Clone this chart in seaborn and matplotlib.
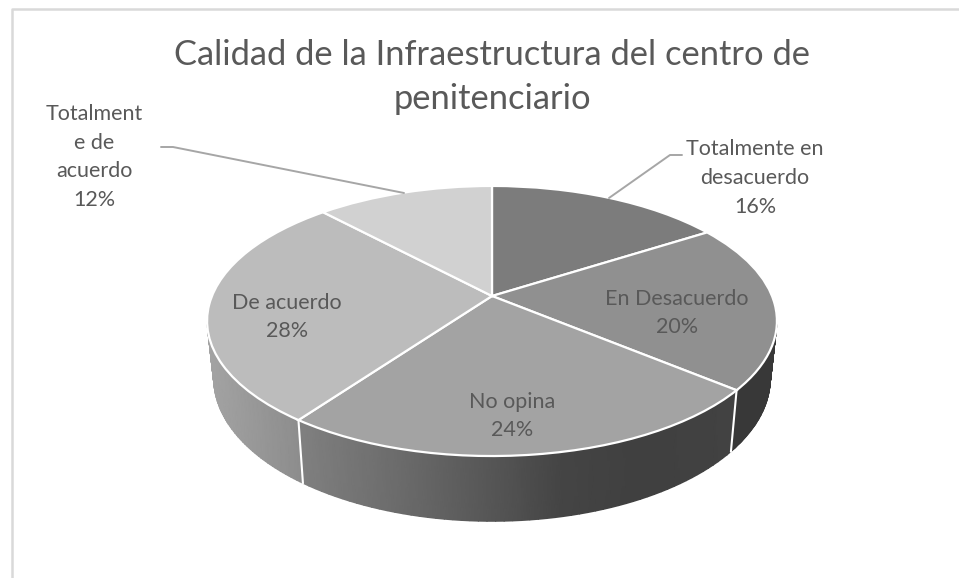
import numpy as np
import seaborn as sns
import matplotlib
matplotlib.use("Agg")
import matplotlib.pyplot as plt
from matplotlib.transforms import Transform

title = "Calidad de la Infraestructura del centro de\npenitenciario"
categories = ["Totalmente en\ndesacuerdo", "En Desacuerdo", "No opina", "De acuerdo", "Totalment\ne de\nacuerdo"]
values = [16, 20, 24, 28, 12]
slice_colors = ["#7c7c7c", "#909090", "#a3a3a3", "#bcbcbc", "#d1d1d1"]
label_pos = [(755, 178), (677, 313), (512, 416), (287, 317), (94, 157)]

sns.set_theme(style="white")
plt.rcParams["font.family"] = ["Lato", "DejaVu Sans"]


# tilted disc seen in perspective, unit circle -> figure pixels
class DiscProjection(Transform):
    input_dims = 2
    output_dims = 2
    has_inverse = False

    def __init__(self, cx, cy, a, b, k):
        super().__init__()
        self.cx, self.cy, self.a, self.b, self.k = cx, cy, a, b, k

    def transform_non_affine(self, values):
        u, v = values[:, 0], values[:, 1]
        d = 1 + self.k * v
        return np.column_stack([self.cx + self.a * u / d, self.cy - self.b * v / d])


top_plane = DiscProjection(492, 296, 280, 130.4, 0.185)
bottom_plane = DiscProjection(492, 352, 273.5, 138, 0.185)

fig = plt.figure(figsize=(9.59, 5.78), dpi=100)
ax = fig.add_axes([0, 0, 1, 1])

wedges, _ = ax.pie(
    values,
    startangle=90,
    counterclock=False,
    colors=sns.color_palette(slice_colors),
    wedgeprops={"edgecolor": "white", "linewidth": 1.6},
)
for w in wedges:
    w.set_transform(top_plane + ax.transData)
    w.set_zorder(3)

ax.set_aspect("auto")
ax.set_xlim(0, 959)
ax.set_ylim(578, 0)
ax.axis("off")


def rim(plane, deg):
    t = np.radians(deg)
    return plane.transform_non_affine(np.column_stack([np.cos(t), np.sin(t)]))


# side wall, only the front of the disc shows. shading per slice, by x
wall_stops = {
    1: ([737, 780], [0.22, 0.22]),
    2: ([303, 400, 500, 560, 640, 737], [0.50, 0.42, 0.33, 0.27, 0.25, 0.26]),
    3: ([200, 303], [0.65, 0.55]),
}
wall_lo, wall_hi = -169, -11
for i, (xs, gs) in wall_stops.items():
    w = wedges[i]
    deg = np.linspace(max(w.theta1, wall_lo), min(w.theta2, wall_hi), 60)
    upper, lower = rim(top_plane, deg), rim(bottom_plane, deg)
    X = np.vstack([upper[:, 0], lower[:, 0]])
    Y = np.vstack([upper[:, 1], lower[:, 1]])
    ax.pcolormesh(X, Y, np.interp(X, xs, gs), shading="gouraud", cmap="gray", vmin=0, vmax=1, zorder=1)

# white dividers on the wall
for w in wedges:
    if wall_lo < w.theta2 < wall_hi:
        a = rim(top_plane, [w.theta2])[0]
        b = rim(bottom_plane, [w.theta2])[0]
        ax.plot([a[0], b[0]], [a[1], b[1]], color="white", lw=1.5, zorder=2)

# chart frame, cut by the edge of the picture
ax.plot([12, 12, 959], [578, 9, 9], color="#d9d9d9", lw=1.8, zorder=0)

fig.text(492 / 959, 1 - 77 / 578, title, ha="center", va="center", fontsize=24.8, color="#595959", linespacing=1.45)

for name, val, (x, y) in zip(categories, values, label_pos):
    ax.text(x, y, f"{name}\n{val}%", ha="center", va="center", fontsize=15.5, color="#595959", linespacing=1.55, zorder=5)

# leader lines
ax.plot([161, 173, 404], [147, 147, 193], color="#a6a6a6", lw=1.4, zorder=4)
ax.plot([682, 670, 609], [155, 155, 198], color="#a6a6a6", lw=1.4, zorder=4)

fig.savefig("out.png", dpi=100, facecolor="white")
